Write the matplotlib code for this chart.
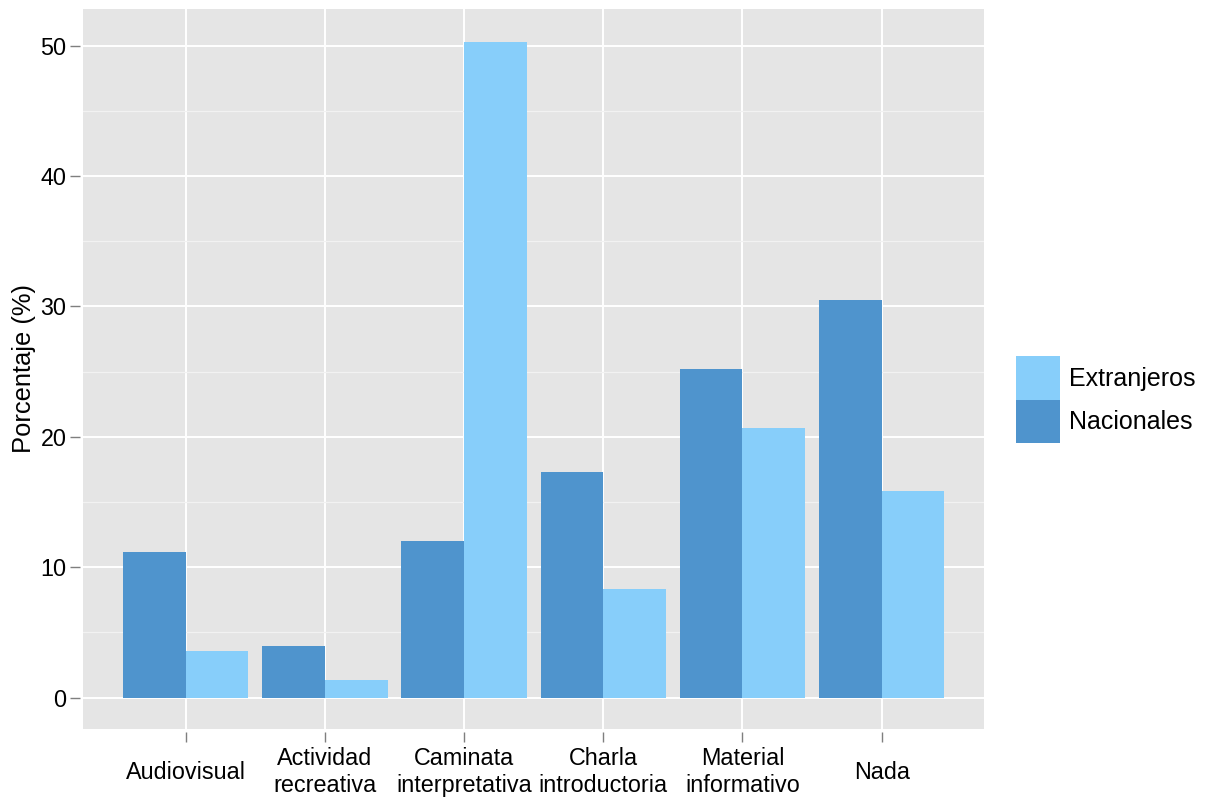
import matplotlib
matplotlib.use("Agg")
import matplotlib.pyplot as plt
from matplotlib.patches import Patch
from matplotlib.ticker import MultipleLocator
import numpy as np

categories = ["Audiovisual", "Actividad\nrecreativa", "Caminata\ninterpretativa",
              "Charla\nintroductoria", "Material\ninformativo", "Nada"]
nacionales = [11.17, 3.96, 12.05, 17.34, 25.19, 30.46]
extranjeros = [3.58, 1.36, 50.26, 8.37, 20.67, 15.88]
legend_labels = ["Extranjeros", "Nacionales"]
colors = {"Nacionales": "#4F94CD", "Extranjeros": "#87CEFA"}

plt.rcParams['font.family'] = ['Liberation Sans', 'DejaVu Sans']
FS_TICK = 16.8
FS_LEG = 18.0
FS_TITLE = 18.4

W, H = 1216, 797
fig = plt.figure(figsize=(W / 100, H / 100), dpi=100)
ax = fig.add_axes([83 / W, (H - 728.7) / H, (984 - 83) / W, (728.7 - 9) / H])
ax.set_facecolor("#E5E5E5")

x = np.arange(len(categories))
bw = 0.45
ax.bar(x - bw / 2, nacionales, width=bw, color=colors["Nacionales"], zorder=3, linewidth=0)
ax.bar(x + bw / 2, extranjeros, width=bw, color=colors["Extranjeros"], zorder=3, linewidth=0)

ax.set_xlim(-0.738, 5.735)
ax.set_ylim(-2.38, 52.81)
ax.yaxis.set_major_locator(MultipleLocator(10))
ax.yaxis.set_minor_locator(MultipleLocator(5))
ax.set_xticks(x)
ax.set_xticklabels(categories)

ax.grid(which='major', axis='both', color='white', linewidth=1.4, zorder=1)
ax.grid(which='minor', axis='y', color='#F2F2F2', linewidth=0.9, zorder=1)
ax.set_axisbelow(True)

for s in ax.spines.values():
    s.set_color('none')
ax.spines['bottom'].set_position(('outward', 2.5))
ax.spines['left'].set_position(('outward', 2))

ax.tick_params(axis='both', which='major', length=7.3, width=1.0, color='#7F7F7F',
               labelsize=FS_TICK, labelcolor='black')
ax.tick_params(axis='y', which='minor', length=0)
ax.tick_params(axis='y', pad=2.5)
ax.tick_params(axis='x', pad=21.5)
for t in ax.get_xticklabels():
    t.set_va('center')
    t.set_linespacing(1.2)

ax.set_ylabel("Porcentaje (%)", fontsize=FS_TITLE, labelpad=3.5)

handles = [Patch(facecolor=colors["Extranjeros"], edgecolor='none'),
           Patch(facecolor=colors["Nacionales"], edgecolor='none')]
fs_px = FS_LEG * 100 / 72
key_px = 43.5
hh = (key_px / fs_px - 0.245) / 0.65
fig.legend(handles, legend_labels, loc='upper left',
           bbox_to_anchor=(1016 / W, (H - 356) / H), bbox_transform=fig.transFigure,
           frameon=False, fontsize=FS_LEG, borderpad=0, borderaxespad=0,
           labelspacing=0, handlelength=44 / fs_px, handleheight=hh,
           handletextpad=9 / fs_px)

fig.savefig("out.png", dpi=100)
